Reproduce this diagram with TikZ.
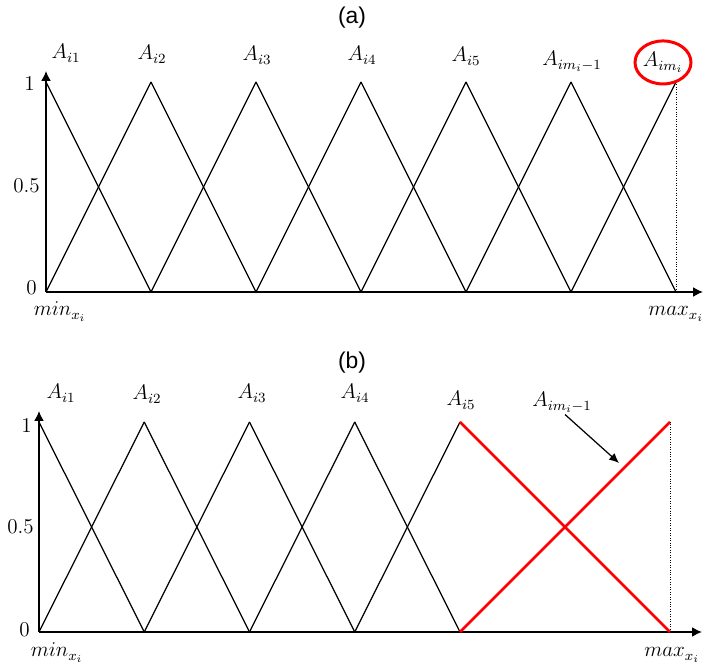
\documentclass[tikz,border=0pt]{standalone}
\usepackage{fontspec}
\newfontfamily\panelfont{Liberation Sans}
\usetikzlibrary{arrows.meta}

\tikzset{
  every node/.style={font=\fontsize{12}{14}\selectfont},
  caption/.style={font=\panelfont\fontsize{13}{15}\selectfont},
  axis/.style={-{Latex[length=5.6pt,width=5.6pt]}, line width=0.9pt},
  mf/.style={line width=0.7pt},
  redmf/.style={red, line width=1.5pt},
  guide/.style={densely dotted, line width=0.4pt},
  setname/.style={anchor=base},
  tick/.style={anchor=east},
}

\begin{document}
\begin{tikzpicture}[x=0.02cm,y=-0.02cm]
\useasboundingbox (0,0) rectangle (704,668);

% (a) all m_i sets
\node[caption] (capa) at (352,18) {(a)};
\draw[axis] (46,292) -- (46,71);
\draw[axis] (46,292) -- (703,292);
\foreach \i in {1,...,6}
  \draw[mf] ({46+105*(\i-1)},292) -- ({46+105*\i},82);
\foreach \i in {0,...,5}
  \draw[mf] ({46+105*\i},82) -- ({46+105*(\i+1)},292);
\draw[guide] (676,82) -- (676,292);
\node[tick] (ya1) at (41,83) {1};
\node[tick] (ya05) at (46,186) {0.5};
\node[tick] (ya0) at (43,288) {0};
\node[setname] (la1) at (66,59) {$A_{i1}$};
\node[setname] (la2) at (152,60) {$A_{i2}$};
\node[setname] (la3) at (257,61) {$A_{i3}$};
\node[setname] (la4) at (362,61) {$A_{i4}$};
\node[setname] (la5) at (466,62) {$A_{i5}$};
\node[setname] (la6) at (572,66) {$A_{im_i-1}$};
\node[setname] (la7) at (663,67) {$A_{im_i}$};
\draw[red, line width=1.7pt] (la7.center) ellipse [x radius=28, y radius=21.5];
\node[setname] (mina) at (60,316) {$min_{x_i}$};
\node[setname] (maxa) at (676,316) {$max_{x_i}$};

% (b) last two sets merged
\node[caption] (capb) at (352,363) {(b)};
\draw[axis] (39,632) -- (39,411);
\draw[axis] (39,632) -- (702,632);
\foreach \i in {1,...,4}
  \draw[mf] ({39+105.25*(\i-1)},632) -- ({39+105.25*\i},422);
\foreach \i in {0,...,3}
  \draw[mf] ({39+105.25*\i},422) -- ({39+105.25*(\i+1)},632);
\draw[redmf] (460,422) -- (670,632);
\draw[redmf] (460,632) -- (670,422);
\draw[guide] (670,422) -- (670,632);
\node[tick] (yb1) at (38,425) {1};
\node[tick] (yb05) at (40,527) {0.5};
\node[tick] (yb0) at (36,630) {0};
\node[setname] (lb1) at (61,399) {$A_{i1}$};
\node[setname] (lb2) at (147,400) {$A_{i2}$};
\node[setname] (lb3) at (252,399) {$A_{i3}$};
\node[setname] (lb4) at (355,399) {$A_{i4}$};
\node[setname] (lb5) at (461,406) {$A_{i5}$};
\node[setname] (lb6) at (562,407) {$A_{im_i-1}$};
\coordinate (hit) at (619,463);
\draw[-{Latex[length=5.6pt,width=5pt]}, line width=0.7pt] ([shift={(3,-4)}]lb6.south) -- (hit);
\node[setname] (minb) at (57,657) {$min_{x_i}$};
\node[setname] (maxb) at (672,657) {$max_{x_i}$};
\end{tikzpicture}
\end{document}
